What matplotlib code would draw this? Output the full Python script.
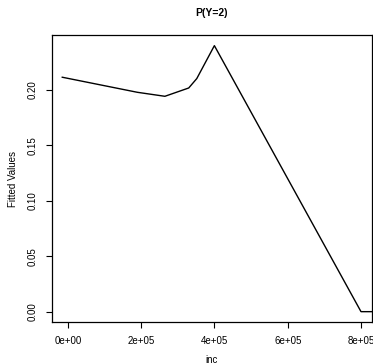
import matplotlib
matplotlib.use("Agg")
import matplotlib.pyplot as plt

# fitted P(Y=2) against income
inc = [-15000, 190000, 265000, 330000, 352000, 400000, 800000, 840000]
fitted = [0.2115, 0.1979, 0.1943, 0.2018, 0.2103, 0.2400, 0.0, 0.0]

x_ticks = [0, 200000, 400000, 600000, 800000]
x_labels = ["0e+00", "2e+05", "4e+05", "6e+05", "8e+05"]
y_ticks = [0.00, 0.05, 0.10, 0.15, 0.20]
y_labels = ["0.00", "0.05", "0.10", "0.15", "0.20"]

plt.rcParams['font.family'] = ['Liberation Sans', 'DejaVu Sans']

fig = plt.figure(figsize=(3.73, 3.64), dpi=100)
ax = fig.add_axes([52 / 373, (364 - 322.3) / 364, 320 / 373, 287.3 / 364])

ax.plot(inc, fitted, color='black', linewidth=1.0)
ax.set_xlim(-43000, 830000)
ax.set_ylim(-0.0096, 0.2496)

ax.set_xticks(x_ticks)
ax.set_xticklabels(x_labels, fontsize=7)
ax.set_yticks(y_ticks)
ax.set_yticklabels(y_labels, fontsize=7, rotation=90, va='center')
ax.tick_params(direction='out', length=4, width=0.8, pad=6, color='black')

for s in ax.spines.values():
    s.set_linewidth(0.9)

ax.set_xlabel('inc', fontsize=7, labelpad=6)
ax.set_ylabel('Fitted Values', fontsize=7, labelpad=7)
ax.set_title('P(Y=2)', fontsize=7.5, fontweight='bold', pad=14)

fig.savefig('out.png', dpi=100)
